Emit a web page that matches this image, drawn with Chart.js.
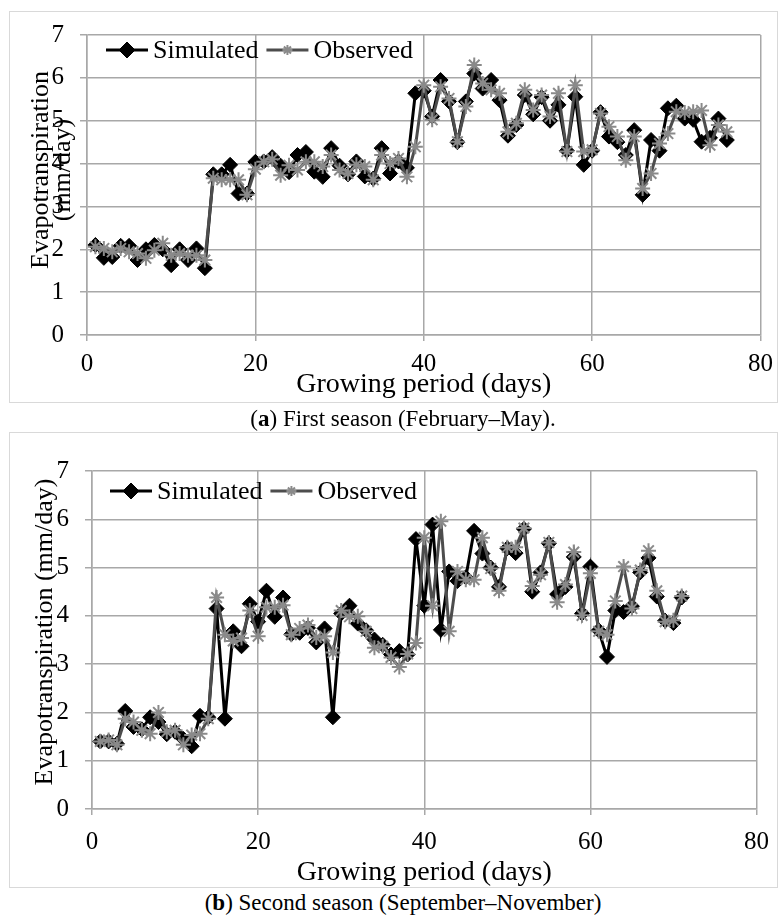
<!DOCTYPE html>
<html>
<head>
<meta charset="utf-8">
<script src="https://cdn.jsdelivr.net/npm/chart.js@4.4.1/dist/chart.umd.min.js"></script>
<style>
  body { margin: 0; background: #fff; }
  #page { position: relative; width: 781px; height: 920px; font-family: "Liberation Serif", serif; }
  .frame { position: absolute; border: 1.5px solid #d9d9d9; box-sizing: border-box; }
  canvas { position: absolute; left: 0; }
  .caption { position: absolute; left: 0; width: 806px; text-align: center; font-size: 23px; line-height: 26px; }
</style>
</head>
<body>
<div id="page">
  <div class="frame" style="left:9px; top:11px; width:769px; height:392px;"></div>
  <div class="frame" style="left:9px; top:432px; width:769px; height:456px;"></div>
  <canvas id="chartA" width="781" height="410" style="top:0px;"></canvas>
  <canvas id="chartB" width="781" height="450" style="top:440px;"></canvas>
  <div class="caption" style="top:406px;">(<b>a</b>) First season (February–May).</div>
  <div class="caption" style="top:890px;">(<b>b</b>) Second season (September–November)</div>
</div>
<script>
// First season (February-May)
let daysA = [1, 2, 3, 4, 5, 6, 7, 8, 9, 10, 11, 12, 13, 14, 15, 16, 17, 18, 19, 20,
    21, 22, 23, 24, 25, 26, 27, 28, 29, 30, 31, 32, 33, 34, 35, 36, 37, 38, 39, 40,
    41, 42, 43, 44, 45, 46, 47, 48, 49, 50, 51, 52, 53, 54, 55, 56, 57, 58, 59, 60,
    61, 62, 63, 64, 65, 66, 67, 68, 69, 70, 71, 72, 73, 74, 75, 76];
let simulatedA = [2.1, 1.8, 1.82, 2.08, 2.08, 1.75, 2.0, 2.1, 2.0, 1.63, 2.0, 1.75, 2.02, 1.56, 3.75, 3.75, 3.97, 3.3, 3.3, 4.04,
    4.05, 4.15, 3.95, 3.8, 4.2, 4.27, 3.81, 3.69, 4.36, 3.95, 3.75, 4.05, 3.7, 3.65, 4.36, 3.77, 4.05, 3.9, 5.64, 5.7,
    5.1, 5.95, 5.45, 4.5, 5.45, 6.1, 5.75, 5.95, 5.48, 4.65, 4.9, 5.6, 5.15, 5.55, 5.0, 5.37, 4.3, 5.56, 3.97, 4.3,
    5.2, 4.63, 4.5, 4.2, 4.78, 3.27, 4.55, 4.3, 5.29, 5.35, 5.05, 5.02, 4.51, 4.6, 5.05, 4.55];
let observedA = [2.06, 2.02, 1.94, 2.02, 1.94, 1.9, 1.79, 1.98, 2.14, 1.86, 1.9, 1.86, 1.86, 1.75, 3.66, 3.62, 3.62, 3.62, 3.27, 3.87,
    4.04, 4.1, 3.73, 3.96, 3.85, 4.04, 4.04, 3.93, 4.2, 3.85, 3.77, 3.97, 3.93, 3.62, 4.2, 4.0, 4.12, 3.69, 4.39, 5.83,
    5.02, 5.79, 5.52, 4.51, 5.33, 6.3, 5.87, 5.72, 5.64, 4.74, 4.94, 5.72, 5.25, 5.6, 5.1, 5.64, 4.28, 5.83, 4.28, 4.32,
    5.17, 4.86, 4.63, 4.08, 4.63, 3.42, 3.77, 4.47, 4.7, 5.21, 5.19, 5.21, 5.24, 4.43, 4.9, 4.74];

// Second season (September-November)
let daysB = [1, 2, 3, 4, 5, 6, 7, 8, 9, 10, 11, 12, 13, 14, 15, 16, 17, 18, 19, 20,
    21, 22, 23, 24, 25, 26, 27, 28, 29, 30, 31, 32, 33, 34, 35, 36, 37, 38, 39, 40,
    41, 42, 43, 44, 45, 46, 47, 48, 49, 50, 51, 52, 53, 54, 55, 56, 57, 58, 59, 60,
    61, 62, 63, 64, 65, 66, 67, 68, 69, 70, 71];
let simulatedB = [1.4, 1.4, 1.35, 2.03, 1.7, 1.65, 1.9, 1.8, 1.55, 1.6, 1.45, 1.3, 1.93, 1.9, 4.15, 1.87, 3.68, 3.37, 4.25, 3.88,
    4.52, 3.98, 4.38, 3.62, 3.65, 3.75, 3.45, 3.74, 1.9, 4.05, 4.21, 3.84, 3.7, 3.51, 3.4, 3.2, 3.27, 3.2, 5.59, 4.21,
    5.89, 3.71, 4.92, 4.72, 4.8, 5.76, 5.29, 5.0, 4.6, 5.4, 5.3, 5.8, 4.5, 4.9, 5.5, 4.45, 4.6, 5.22, 4.05, 5.02,
    3.7, 3.15, 4.11, 4.08, 4.2, 4.9, 5.2, 4.4, 3.9, 3.85, 4.38];
let observedB = [1.4, 1.43, 1.33, 1.87, 1.8, 1.63, 1.56, 2.0, 1.6, 1.63, 1.33, 1.53, 1.56, 1.87, 4.38, 3.61, 3.48, 3.54, 4.11, 3.58,
    4.18, 4.18, 4.22, 3.61, 3.74, 3.81, 3.55, 3.58, 3.24, 4.11, 3.98, 3.99, 3.68, 3.34, 3.37, 3.14, 2.94, 3.21, 3.44, 5.62,
    4.21, 5.96, 3.68, 4.92, 4.75, 4.75, 5.62, 4.98, 4.52, 5.42, 5.42, 5.82, 4.62, 4.85, 5.52, 4.28, 4.65, 5.32, 4.01, 4.88,
    3.68, 3.61, 4.31, 5.02, 4.15, 4.95, 5.35, 4.52, 3.88, 3.91, 4.41];

let xTicks = [0, 20, 40, 60, 80];
let yTicks = [0, 1, 2, 3, 4, 5, 6, 7];

const FONT = "Liberation Serif";
const gridColor = "#a8a8a8";

function toPoints(days, values) {
    return days.map((d, i) => ({ x: d, y: values[i] }));
}

// legend drawn inside the plot area, like the Excel original
const insideLegend = {
    id: "insideLegend",
    afterDraw(chart, args, opts) {
        let ctx = chart.ctx;
        let x = chart.chartArea.left + opts.x;
        let y = chart.chartArea.top + opts.y;
        ctx.save();
        ctx.font = "26px '" + FONT + "'";
        ctx.textBaseline = "middle";
        chart.data.datasets.forEach(ds => {
            ctx.strokeStyle = ds.borderColor;
            ctx.lineWidth = 3;
            ctx.beginPath();
            ctx.moveTo(x, y);
            ctx.lineTo(x + 42, y);
            ctx.stroke();
            ctx.fillStyle = ds.pointBackgroundColor;
            ctx.strokeStyle = ds.pointBorderColor;
            ctx.lineWidth = ds.pointBorderWidth;
            Chart.helpers.drawPoint(ctx, { pointStyle: ds.pointStyle, radius: ds.legendRadius, borderWidth: ds.pointBorderWidth }, x + 21, y);
            ctx.fillStyle = "#000";
            ctx.fillText(ds.label, x + 47, y + 1);
            x += 47 + ctx.measureText(ds.label).width + 8;
        });
        ctx.restore();
    }
};

// rotated y axis title, lines may overlap the tick labels as in the original
const yTitle = {
    id: "yTitle",
    afterDraw(chart, args, opts) {
        let ctx = chart.ctx;
        ctx.save();
        ctx.font = "26px '" + FONT + "'";
        ctx.fillStyle = "#000";
        ctx.textAlign = "center";
        ctx.textBaseline = "middle";
        opts.lines.forEach((line, i) => {
            ctx.save();
            ctx.translate(opts.xs[i], opts.cy);
            ctx.rotate(-Math.PI / 2);
            ctx.fillText(line, 0, 0);
            ctx.restore();
        });
        ctx.restore();
    }
};

function makeChart(id, days, sim, obs, cfg) {
    let ctx = document.getElementById(id).getContext("2d");
    return new Chart(ctx, {
        type: "line",
        data: {
            datasets: [{
                label: "Simulated",
                data: toPoints(days, sim),
                borderColor: "#000",
                borderWidth: 3,
                pointStyle: "rectRot",
                pointRadius: 7.5,
                legendRadius: 8,
                pointBackgroundColor: "#000",
                pointBorderColor: "#000",
                pointBorderWidth: 1,
                order: 1
            }, {
                label: "Observed",
                data: toPoints(days, obs),
                borderColor: "#4d4d4d",
                borderWidth: 3,
                pointStyle: "star",
                pointRadius: 7.5,
                legendRadius: 5,
                pointBackgroundColor: "#8a8a8a",
                pointBorderColor: "#8a8a8a",
                pointBorderWidth: 2,
                order: 0
            }]
        },
        options: {
            responsive: false,
            animation: false,
            layout: { padding: { top: cfg.padTop, right: cfg.padRight, left: 0, bottom: 0 } },
            plugins: {
                legend: { display: false },
                tooltip: { enabled: false },
                insideLegend: { x: cfg.legendX, y: cfg.legendY },
                yTitle: cfg.yTitle
            },
            scales: {
                x: {
                    type: "linear",
                    min: xTicks[0],
                    max: xTicks[xTicks.length - 1],
                    afterBuildTicks: s => { s.ticks = xTicks.map(v => ({ value: v })); },
                    ticks: { color: "#000", font: { family: FONT, size: 25 }, padding: cfg.xTickPad, maxRotation: 0 },
                    grid: { color: gridColor, lineWidth: 1.5, tickLength: 6 },
                    border: { color: gridColor, width: 1.5 },
                    title: {
                        display: true,
                        text: "Growing period (days)",
                        color: "#000",
                        font: { family: FONT, size: 28 },
                        padding: { top: 0, bottom: cfg.xTitlePad }
                    },
                    afterFit: s => { s.height = cfg.xHeight; }
                },
                y: {
                    min: yTicks[0],
                    max: yTicks[yTicks.length - 1],
                    afterBuildTicks: s => { s.ticks = yTicks.map(v => ({ value: v })); },
                    ticks: { color: "#000", font: { family: FONT, size: 25 }, padding: 16 },
                    grid: { color: gridColor, lineWidth: 1.5, tickLength: 7 },
                    border: { color: gridColor, width: 1.5 },
                    afterFit: s => { s.width = cfg.yWidth; }
                }
            }
        },
        plugins: [insideLegend, yTitle]
    });
}

document.addEventListener("DOMContentLoaded", function () {
    makeChart("chartA", daysA, simulatedA, observedA, {
        padTop: 35, padRight: 13, yWidth: 87, xHeight: 75,
        xTickPad: 8, xTitlePad: 9, legendX: 19, legendY: 15,
        yTitle: { lines: ["Evapotranspiration", "(mm/day)"], xs: [41, 63], cy: 170 }
    });
    makeChart("chartB", daysB, simulatedB, observedB, {
        padTop: 21, padRight: 21, yWidth: 92, xHeight: 81,
        xTickPad: 12, xTitlePad: 1, legendX: 18, legendY: 20,
        yTitle: { lines: ["Evapotranspiration (mm/day)"], xs: [45], cy: 632 - 440 }
    });
});
</script>
</body>
</html>
